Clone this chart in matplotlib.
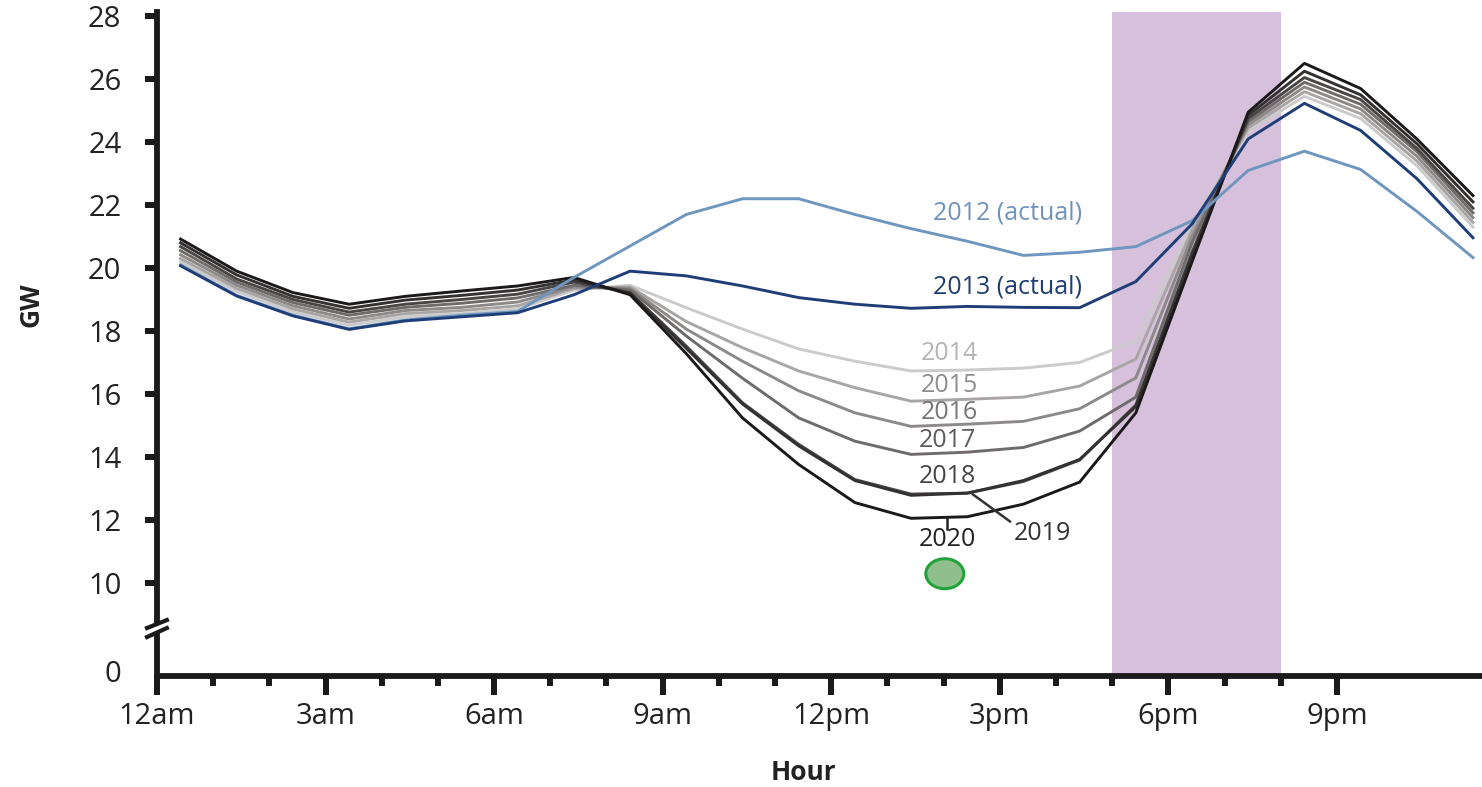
import numpy as np
import matplotlib
matplotlib.use("Agg")
import matplotlib.pyplot as plt
from matplotlib.patches import Ellipse
from matplotlib.transforms import ScaledTranslation

plt.rcParams['font.family'] = ['Open Sans', 'DejaVu Sans']

# hourly net load (GW), one point per hour
hours = np.arange(24) + 0.42

load_2012 = [20.1, 19.13, 18.5, 18.07, 18.35, 18.5, 18.62, 19.7, 20.7, 21.7, 22.2, 22.2,
             21.7, 21.25, 20.85, 20.4, 20.5, 20.68, 21.5, 23.1, 23.71, 23.13, 21.8, 20.33]
load_2013 = [20.07, 19.11, 18.48, 18.05, 18.32, 18.45, 18.58, 19.15, 19.9, 19.75, 19.43, 19.06,
             18.85, 18.72, 18.78, 18.75, 18.74, 19.57, 21.4, 24.1, 25.23, 24.37, 22.84, 20.96]
load_2014 = [20.2, 19.25, 18.6, 18.18, 18.45, 18.55, 18.7, 19.3, 19.45, 18.74, 18.06, 17.43,
             17.04, 16.73, 16.76, 16.82, 17.0, 17.68, 21.4, 24.35, 25.45, 24.75, 23.25, 21.3]
load_2015 = [20.3, 19.35, 18.7, 18.28, 18.55, 18.65, 18.8, 19.35, 19.4, 18.3, 17.47, 16.73,
             16.2, 15.77, 15.83, 15.9, 16.25, 17.11, 21.2, 24.45, 25.6, 24.9, 23.4, 21.45]
load_2016 = [20.42, 19.45, 18.8, 18.38, 18.65, 18.75, 18.92, 19.4, 19.35, 18.06, 17.04, 16.1,
             15.4, 14.97, 15.04, 15.13, 15.53, 16.51, 21.0, 24.55, 25.75, 25.05, 23.55, 21.6]
load_2017 = [20.55, 19.55, 18.9, 18.5, 18.75, 18.88, 19.05, 19.45, 19.3, 17.84, 16.5, 15.24,
             14.5, 14.08, 14.15, 14.3, 14.82, 15.9, 20.8, 24.65, 25.9, 25.2, 23.7, 21.75]
load_2018 = [20.68, 19.65, 19.0, 18.6, 18.85, 19.0, 19.17, 19.55, 19.22, 17.52, 15.72, 14.4,
             13.28, 12.82, 12.85, 13.22, 13.9, 15.65, 20.5, 24.75, 26.05, 25.35, 23.8, 21.9]
load_2019 = [20.8, 19.78, 19.1, 18.72, 18.98, 19.13, 19.3, 19.62, 19.2, 17.45, 15.68, 14.35,
             13.25, 12.78, 12.85, 13.25, 13.92, 15.6, 20.4, 24.85, 26.25, 25.5, 23.95, 22.1]
load_2020 = [20.92, 19.9, 19.22, 18.85, 19.1, 19.27, 19.43, 19.7, 19.15, 17.28, 15.24, 13.76,
             12.55, 12.05, 12.1, 12.5, 13.2, 15.4, 20.2, 24.95, 26.5, 25.7, 24.1, 22.3]

xtick_pos = [0, 3, 6, 9, 12, 15, 18, 21]
xtick_labels = ['12am', '3am', '6am', '9am', '12pm', '3pm', '6pm', '9pm']
ytick_pos = [10, 12, 14, 16, 18, 20, 22, 24, 26, 28]
ramp_start, ramp_end = 17, 20
marker_2020 = (14.02, 10.29)


def forward(y):
    y = np.asarray(y, dtype=float)
    return np.where(y >= 10, y, 10 - (10 - y) * 0.28)


def inverse(p):
    p = np.asarray(p, dtype=float)
    return np.where(p >= 10, p, 10 - (10 - p) / 0.28)


fig = plt.figure(figsize=(14.82, 7.87), dpi=100)
ax = fig.add_axes([0.1059, 0.1410, 0.8941, 0.8437])
ax.set_yscale('function', functions=(forward, inverse))

# evening ramp window
ax.axvspan(ramp_start, ramp_end, color='#d6c0dc', lw=0, zorder=0)

grays = [
    (load_2014, '#cbcbcb'), (load_2015, '#a9a5a5'), (load_2016, '#8d8989'),
    (load_2017, '#6f6b6b'), (load_2018, '#4a4646'), (load_2019, '#343131'),
    (load_2020, '#1b1919'),
]
for vals, c in grays:
    ax.plot(hours, vals, color=c, lw=2.1, zorder=2)
ax.plot(hours, load_2012, color='#6f96bf', lw=2.1, zorder=3)
ax.plot(hours, load_2013, color='#1f3e78', lw=2.1, zorder=3)

# line labels
fs = 18
ax.text(15.14, 21.76, '2012 (actual)', color='#6f93bb', fontsize=fs, ha='center', va='center')
ax.text(15.14, 19.4, '2013 (actual)', color='#1f3e73', fontsize=fs, ha='center', va='center')
ax.text(14.11, 17.3, '2014', color='#b4b4b4', fontsize=fs, ha='center', va='center')
ax.text(14.11, 16.28, '2015', color='#8e8e8e', fontsize=fs, ha='center', va='center')
ax.text(14.1, 15.42, '2016', color='#777777', fontsize=fs, ha='center', va='center')
ax.text(14.07, 14.53, '2017', color='#5c5c5c', fontsize=fs, ha='center', va='center')
ax.text(14.07, 13.38, '2018', color='#454545', fontsize=fs, ha='center', va='center')
ax.text(15.75, 11.57, '2019', color='#333333', fontsize=fs, ha='center', va='center')
ax.text(14.07, 11.38, '2020', color='#222222', fontsize=fs, ha='center', va='center')
ax.plot([14.52, 15.18], [12.81, 11.95], color='#333333', lw=1.8, zorder=3)
ax.plot([14.06, 14.06], [12.08, 11.72], color='#222222', lw=1.8, zorder=3)

# green marker, sized in inches so the axis break does not squash it
tr = fig.dpi_scale_trans + ScaledTranslation(marker_2020[0], marker_2020[1], ax.transData)
ax.add_patch(Ellipse((0, 0), 0.38, 0.30, transform=tr, facecolor='#8fbf8c',
                     edgecolor='#22a33a', lw=2.2, zorder=3))

ax.set_xlim(0, 23.58)
ax.set_ylim(-0.57, 28.13)

for s in ['top', 'right']:
    ax.spines[s].set_visible(False)
for s in ['left', 'bottom']:
    ax.spines[s].set_linewidth(4.2)
    ax.spines[s].set_color('#1a1a1a')

ax.set_xticks(xtick_pos)
ax.set_xticklabels(xtick_labels)
ax.set_xticks([1, 2, 4, 5, 7, 8, 10, 11, 13, 14, 16, 17, 19, 20], minor=True)
ax.set_yticks(ytick_pos)
ax.set_yticks([0], minor=True)
ax.set_yticklabels(['0'], minor=True)

ax.tick_params(axis='x', which='major', length=14, width=4.3, color='#1a1a1a',
               labelsize=21, labelcolor='#222222', pad=5)
ax.tick_params(axis='x', which='minor', length=7, width=4.3, color='#1a1a1a')
ax.tick_params(axis='y', which='major', length=8.6, width=4.3, color='#1a1a1a',
               labelsize=21, labelcolor='#222222', pad=17)
ax.tick_params(axis='y', which='minor', length=0, labelsize=21,
               labelcolor='#222222', pad=25.6)

# axis break marks between 0 and 10
ax.fill([-0.0075, 0.0075, 0.0075, -0.0075], [0.0587, 0.0723, 0.0843, 0.0723],
        color='white', transform=ax.transAxes, clip_on=False, zorder=5)
ax.plot([-0.0075, 0.0075], [0.0723, 0.0843], color='#1a1a1a', lw=3,
        transform=ax.transAxes, clip_on=False, zorder=6)
ax.plot([-0.0075, 0.0075], [0.0587, 0.0723], color='#1a1a1a', lw=3,
        transform=ax.transAxes, clip_on=False, zorder=6)

fig.text(31 / 1482, 1 - 305 / 787, 'GW', rotation=90, fontsize=19, fontweight='bold',
         color='#222222', ha='center', va='center')
fig.text(803 / 1482, 1 - 773 / 787, 'Hour', fontsize=19, fontweight='bold',
         color='#222222', ha='center', va='center')

fig.savefig('out.png', dpi=100)
